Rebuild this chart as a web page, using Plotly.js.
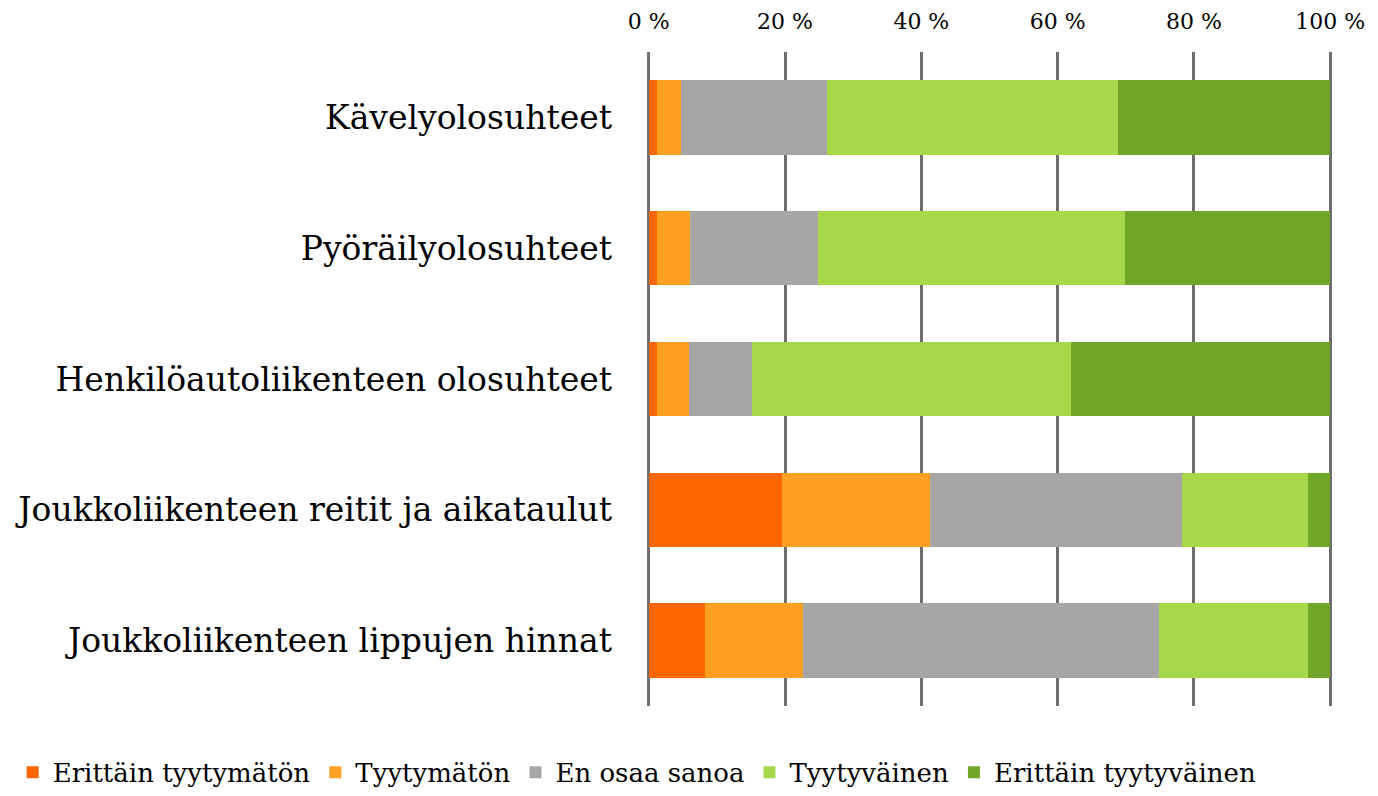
<!DOCTYPE html>
<html>
<head>
<meta charset="utf-8">
<script src="https://cdn.plot.ly/plotly-3.0.1.min.js"></script>
<style>
  html, body { margin: 0; padding: 0; background: #fff; overflow: hidden; }
  #wrap { width: 1378px; height: 796px; overflow: hidden; }
  #chart { width: 1378px; height: 808px; }
</style>
</head>
<body>
<div id="wrap"><div id="chart"></div></div>
<script>
// Categories, top to bottom
var categories = ["Kävelyolosuhteet", "Pyöräilyolosuhteet", "Henkilöautoliikenteen olosuhteet",
                  "Joukkoliikenteen reitit ja aikataulut", "Joukkoliikenteen lippujen hinnat"];

// Shares (%) per answer
var erittainTyytymaton = [1.2, 1.2, 1.2, 19.5, 8.3];
var tyytymaton         = [3.6, 4.9, 4.7, 21.7, 14.4];
var enOsaaSanoa        = [21.3, 18.7, 9.3, 37.1, 52.2];
var tyytyvainen        = [42.8, 45.1, 46.8, 18.5, 21.9];
var erittainTyytyvainen= [31.1, 30.1, 38.0, 3.2, 3.2];

var seriesNames = ["Erittäin tyytymätön", "Tyytymätön", "En osaa sanoa", "Tyytyväinen", "Erittäin tyytyväinen"];
var seriesValues = [erittainTyytymaton, tyytymaton, enOsaaSanoa, tyytyvainen, erittainTyytyvainen];
var colors = ["#FF6600", "#FFA023", "#A6A6A6", "#A6D84A", "#70A628"];

var font = "DejaVu Serif";

var traces = seriesNames.map(function(name, i) {
  return {
    type: "bar",
    orientation: "h",
    name: name,
    y: categories,
    x: seriesValues[i],
    marker: {color: colors[i], line: {width: 0}},
    hoverinfo: "name+x"
  };
});

// figure is a bit taller than the window so the legend can sit low without pushing the margin
var layout = {
  barmode: "stack",
  bargap: 0.43,
  width: 1378,
  height: 808,
  margin: {l: 647, r: 46, t: 52, b: 102},
  paper_bgcolor: "#fff",
  plot_bgcolor: "#fff",
  font: {family: font, color: "#000"},
  xaxis: {
    side: "top",
    range: [-0.25, 100.25],
    tick0: 0,
    dtick: 20,
    ticksuffix: " %",
    showticksuffix: "all",
    showgrid: true,
    gridcolor: "#6E6E6E",
    gridwidth: 3,
    zeroline: false,
    showline: false,
    ticks: "",
    ticklabelstandoff: 18,
    tickfont: {size: 22, family: font},
    automargin: false
  },
  yaxis: {
    autorange: "reversed",
    showgrid: false,
    ticks: "",
    ticklabelstandoff: 34,
    tickfont: {size: 33, family: font},
    automargin: false
  },
  showlegend: true,
  legend: {
    orientation: "h",
    x: -0.926,
    xanchor: "left",
    y: -0.1372,
    yanchor: "bottom",
    font: {size: 26, family: font},
    itemwidth: 30,
    traceorder: "normal"
  }
};

Plotly.newPlot("chart", traces, layout, {displayModeBar: false});
</script>
</body>
</html>
